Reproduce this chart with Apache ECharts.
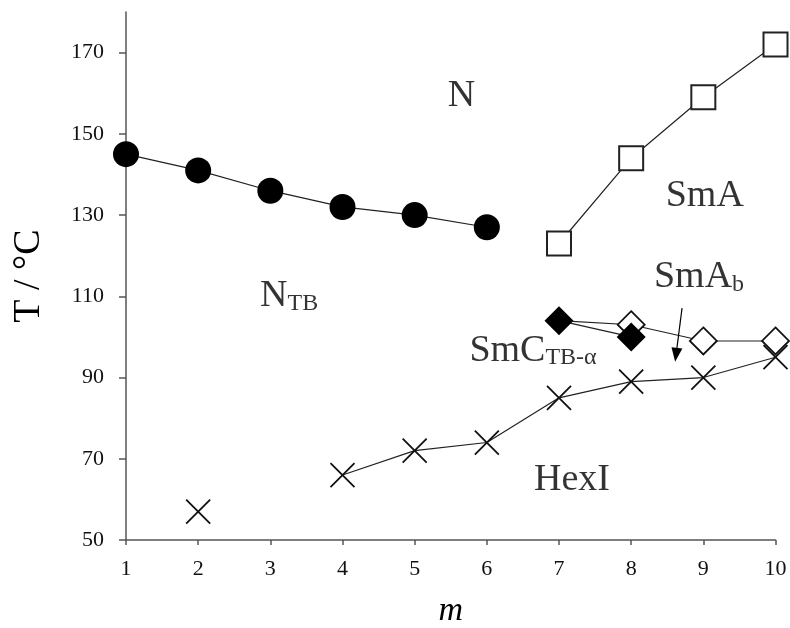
<!DOCTYPE html>
<html>
<head>
<meta charset="utf-8">
<title>Phase diagram</title>
<script src="https://cdn.jsdelivr.net/npm/echarts@6/dist/echarts.min.js"></script>
<style>
  html, body { margin: 0; padding: 0; background: #fff; }
  #chart { width: 790px; height: 628px; }
</style>
</head>
<body>
<div id="chart"></div>
<script>
// Transition temperatures (°C) versus spacer length m
const ntbM = [1, 2, 3, 4, 5, 6];
const ntbT = [145, 141, 136, 132, 130, 127];      // N – NTB (filled circles)

const smaM = [7, 8, 9, 10];
const smaT = [123, 144, 159, 172];                // N – SmA (open squares)

const smcM = [7, 8];
const smcT = [104, 100];                          // SmCTB-α (filled diamonds)

const smabM = [7, 8, 9, 10];
const smabT = [104, 103, 99, 99];                 // SmAb boundary (open diamonds, starts at the m = 7 filled point)

const hexM = [4, 5, 6, 7, 8, 9, 10];
const hexT = [66, 72, 74, 85, 89, 90, 95];        // HexI (crosses, joined)
const hexLoneM = [2];
const hexLoneT = [57];                            // HexI, isolated point

const xTicks = [1, 2, 3, 4, 5, 6, 7, 8, 9, 10];
const yTicks = [50, 70, 90, 110, 130, 150, 170];

const FONT = 'Liberation Serif';
const LINE = '#222';

function pairs(xs, ys) { return xs.map((x, i) => [x, ys[i]]); }

// Phase-region names placed in data space
const phaseLabels = [
  { text: '{main|N}',                  at: [5.65, 159.3] },
  { text: '{main|SmA}',                at: [9.02, 134.7] },
  { text: '{main|N}{sub|TB}',          at: [3.26, 110.0] },
  { text: '{main|SmA}{sub|b}',         at: [8.94, 114.7] },
  { text: '{main|SmC}{sub|TB-α}',      at: [6.64, 96.5] },
  { text: '{main|HexI}',               at: [7.18, 64.7] }
];
const arrowFrom = [8.705, 107.1];
const arrowTo = [8.622, 95.6];

const crossPath = 'path://M0,0L10,10M10,0L0,10';

const chart = echarts.init(document.getElementById('chart'), null, { renderer: 'canvas' });

chart.setOption({
  animation: false,
  backgroundColor: '#fff',
  grid: { left: 126, right: 14.5, top: 12, bottom: 88, outerBoundsMode: 'none' },
  xAxis: {
    type: 'value', min: 1, max: 10, interval: 1,
    name: 'm', nameLocation: 'middle', nameGap: 54,
    nameTextStyle: { fontFamily: FONT, fontSize: 34, fontStyle: 'italic', color: '#000' },
    axisLine: { show: true, onZero: false, lineStyle: { color: '#555', width: 1.5 } },
    axisTick: { show: true, length: 5, customValues: xTicks, lineStyle: { color: '#555', width: 1.5 } },
    axisLabel: { customValues: xTicks, margin: 18, fontFamily: FONT, fontSize: 22, color: '#111' },
    splitLine: { show: false }
  },
  yAxis: {
    type: 'value', min: 50, max: 180, interval: 20,
    name: 'T / °C', nameLocation: 'middle', nameGap: 78, nameRotate: 90,
    nameTextStyle: { fontFamily: FONT, fontSize: 38, color: '#000' },
    axisLine: { show: true, onZero: false, lineStyle: { color: '#555', width: 1.5 } },
    axisTick: { show: true, length: 7, customValues: yTicks, lineStyle: { color: '#555', width: 1.5 } },
    axisLabel: { customValues: yTicks, margin: 22, fontFamily: FONT, fontSize: 22, color: '#111' },
    splitLine: { show: false }
  },
  series: [
    {
      name: 'HexI', type: 'line', data: pairs(hexM, hexT),
      symbol: crossPath, symbolSize: 24,
      itemStyle: { color: 'rgba(0,0,0,0)', borderColor: '#111', borderWidth: 1.8 },
      lineStyle: { color: LINE, width: 1.2 }, z: 2
    },
    {
      name: 'HexI lone', type: 'scatter', data: pairs(hexLoneM, hexLoneT),
      symbol: crossPath, symbolSize: 24,
      itemStyle: { color: 'rgba(0,0,0,0)', borderColor: '#111', borderWidth: 1.8, opacity: 1 }, z: 2
    },
    {
      name: 'NTB', type: 'line', data: pairs(ntbM, ntbT),
      symbol: 'circle', symbolSize: 26,
      itemStyle: { color: '#000' },
      lineStyle: { color: LINE, width: 1.2 }, z: 3
    },
    {
      name: 'SmA', type: 'line', data: pairs(smaM, smaT),
      symbol: 'rect', symbolSize: 24,
      itemStyle: { color: '#fff', borderColor: '#222', borderWidth: 2 },
      lineStyle: { color: LINE, width: 1.2 }, z: 3
    },
    {
      name: 'SmAb', type: 'line',
      data: pairs(smabM, smabT).map((p, i) => i === 0 ? { value: p, symbol: 'none' } : p),
      symbol: 'diamond', symbolSize: 27,
      itemStyle: { color: '#fff', borderColor: '#111', borderWidth: 1.8 },
      lineStyle: { color: LINE, width: 1.2 }, z: 4
    },
    {
      name: 'SmCTB', type: 'line', data: pairs(smcM, smcT),
      symbol: 'diamond', symbolSize: 29,
      itemStyle: { color: '#000' },
      lineStyle: { color: LINE, width: 1.2 }, z: 5
    },
    {
      name: 'phases', type: 'scatter', silent: true, z: 6,
      symbolSize: 0,
      data: phaseLabels.map(p => ({ value: p.at, text: p.text })),
      label: {
        show: true, position: 'inside',
        formatter: (p) => p.data.text,
        rich: {
          main: { fontFamily: FONT, fontSize: 38, lineHeight: 38, color: '#000' },
          sub: { fontFamily: FONT, fontSize: 24, lineHeight: 14, verticalAlign: 'bottom', color: '#000' }
        }
      },
      markLine: {
        silent: true, animation: false,
        symbol: ['none', 'triangle'], symbolSize: [11, 14],
        label: { show: false },
        lineStyle: { color: '#000', width: 1.2, type: 'solid' },
        data: [[{ coord: arrowFrom }, { coord: arrowTo }]]
      }
    }
  ]
});
</script>
</body>
</html>
